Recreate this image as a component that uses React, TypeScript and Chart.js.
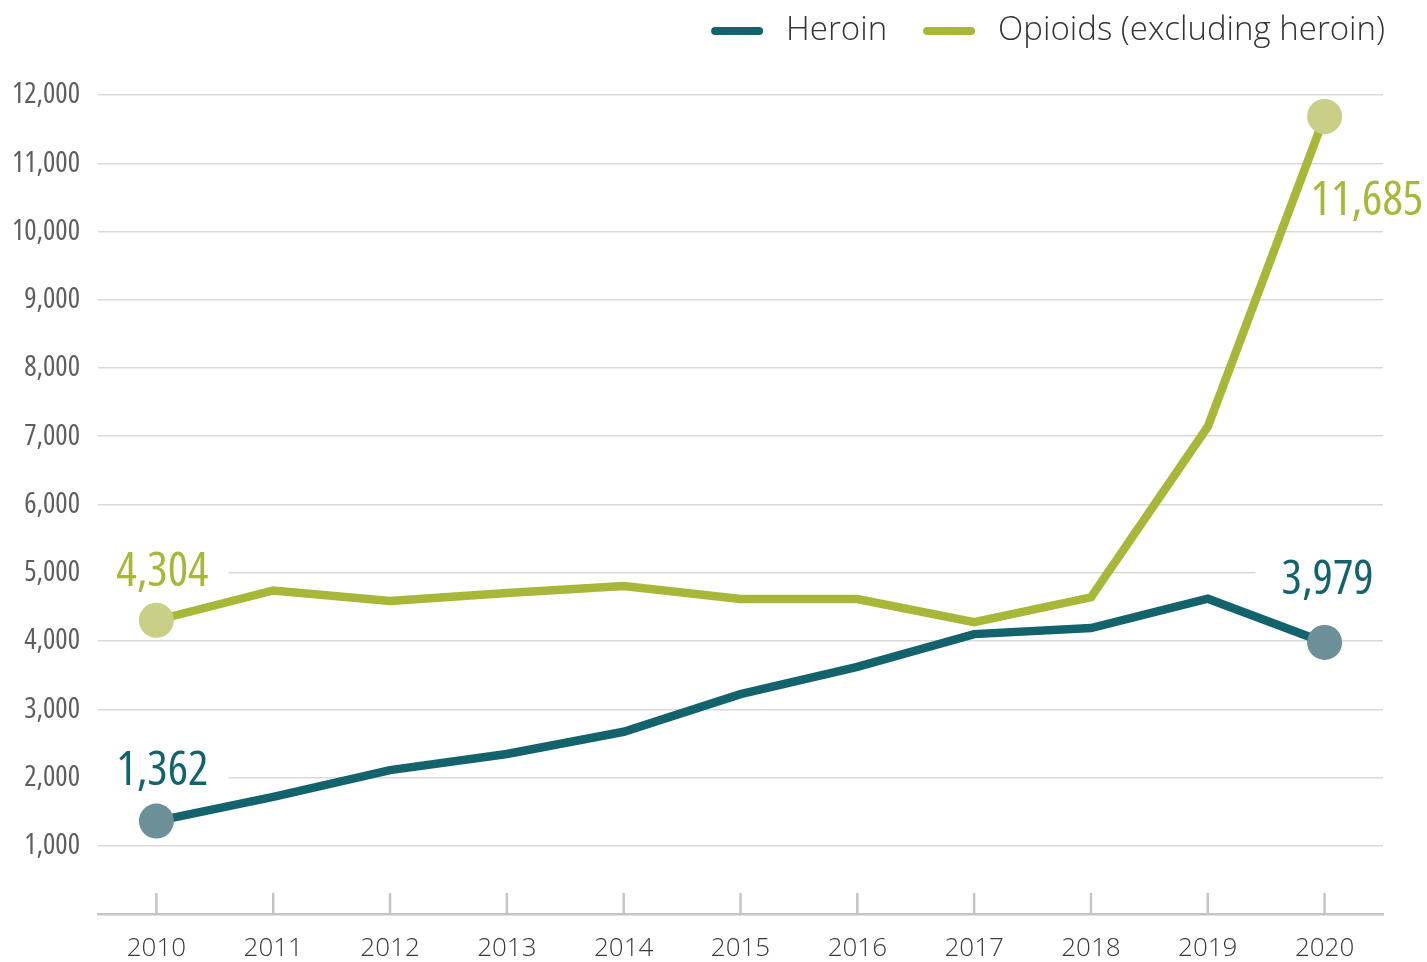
import React, { useEffect, useRef } from 'react';
import { Chart, registerables } from 'chart.js';

Chart.register(...registerables);

const years = ['2010', '2011', '2012', '2013', '2014', '2015', '2016', '2017', '2018', '2019', '2020'];
const heroin = [1362, 1716, 2109, 2344, 2670, 3222, 3620, 4101, 4189, 4620, 3979];
const opioids = [4304, 4740, 4585, 4702, 4804, 4614, 4614, 4277, 4640, 7140, 11685];
const seriesNames = ['Heroin', 'Opioids (excluding heroin)'];
const yMin = 0;
const yMax = 12000;
const yStep = 1000;

const HEROIN_LINE = '#13636c';
const HEROIN_POINT = '#6d8f97';
const OPIOID_LINE = '#a9b739';
const OPIOID_POINT = '#c9cf86';

const WIDE = "'Open Sans', 'Noto Sans', sans-serif";

const fmt = (v: number) => v.toLocaleString('en-US');

const tickMarksPlugin = {
  id: 'tickMarks',
  beforeDatasetsDraw(chart: any) {
    const { ctx, scales } = chart;
    const x = scales.x;
    const y0 = scales.y.getPixelForValue(yMin);
    ctx.save();
    ctx.strokeStyle = '#c4c4c4';
    ctx.lineWidth = 2.5;
    years.forEach((_, i) => {
      const px = x.getPixelForValue(i);
      ctx.beginPath();
      ctx.moveTo(px, y0);
      ctx.lineTo(px, y0 - 21);
      ctx.stroke();
    });
    ctx.restore();
  },
};

// label placement: [datasetIndex, pointIndex, dx, dy, align, side]
const labelSpecs: Array<[number, number, number, number, string, string]> = [
  [0, 0, 6, -36, 'center', 'left'],
  [1, 0, 6, -34, 'center', 'left'],
  [0, 10, 3, -48, 'center', 'right'],
  [1, 10, -14, 99, 'left', 'none'],
];

const LABEL_FONT = `normal condensed 48px ${WIDE}`;

const valueLabelsPlugin = {
  id: 'valueLabels',
  beforeDatasetsDraw(chart: any) {
    const { ctx, chartArea } = chart;
    ctx.save();
    ctx.font = LABEL_FONT;
    ctx.fillStyle = '#ffffff';
    labelSpecs.forEach(([di, pi, dx, dy, align, side]) => {
      if (side === 'none') return;
      const el = chart.getDatasetMeta(di).data[pi];
      const text = fmt(chart.data.datasets[di].data[pi]);
      const w = ctx.measureText(text).width;
      const cx = el.x + dx;
      const base = el.y + dy;
      const left = align === 'center' ? cx - w / 2 : cx;
      const right = left + w;
      if (side === 'left') {
        ctx.fillRect(chartArea.left, base - 40, right + 20 - chartArea.left, 46);
      } else {
        ctx.fillRect(left - 26, base - 40, chartArea.right - (left - 26), 46);
      }
    });
    ctx.restore();
  },
  afterDatasetsDraw(chart: any) {
    const { ctx } = chart;
    ctx.save();
    ctx.font = LABEL_FONT;
    ctx.textBaseline = 'alphabetic';
    labelSpecs.forEach(([di, pi, dx, dy, align]) => {
      const el = chart.getDatasetMeta(di).data[pi];
      const text = fmt(chart.data.datasets[di].data[pi]);
      ctx.fillStyle = chart.data.datasets[di].borderColor;
      ctx.textAlign = align;
      ctx.fillText(text, el.x + dx, el.y + dy);
    });
    ctx.restore();
  },
};

const legendPlugin = {
  id: 'customLegend',
  afterDraw(chart: any) {
    const { ctx, chartArea } = chart;
    ctx.save();
    ctx.font = `300 33px ${WIDE}`;
    ctx.textBaseline = 'middle';
    ctx.textAlign = 'left';
    const cy = 31;
    let right = chartArea.right + 2;
    const items = chart.data.datasets.map((d: any) => ({ label: d.label, color: d.borderColor }));
    for (let i = items.length - 1; i >= 0; i--) {
      const it = items[i];
      const tw = ctx.measureText(it.label).width;
      const tx = right - tw;
      ctx.fillStyle = '#333333';
      ctx.fillText(it.label, tx, cy);
      const bx1 = tx - 23;
      const bx0 = bx1 - 52;
      ctx.strokeStyle = it.color;
      ctx.lineWidth = 8;
      ctx.lineCap = 'round';
      ctx.beginPath();
      ctx.moveTo(bx0 + 4, cy);
      ctx.lineTo(bx1 - 4, cy);
      ctx.stroke();
      right = bx0 - 36;
    }
    ctx.restore();
  },
};

const endRadius = (n: number) => (c: any) => (c.dataIndex === 0 || c.dataIndex === n - 1 ? 17.5 : 0);

export default function App() {
  const ref = useRef<HTMLCanvasElement | null>(null);
  useEffect(() => {
    document.body.style.margin = '0';
    const canvas = ref.current;
    if (!canvas) return;
    const chart = new Chart(canvas, {
      type: 'line',
      data: {
        labels: years,
        datasets: [
          {
            label: seriesNames[0],
            data: heroin,
            borderColor: HEROIN_LINE,
            backgroundColor: HEROIN_LINE,
            borderWidth: 8.5,
            pointRadius: endRadius(years.length),
            pointHoverRadius: endRadius(years.length),
            pointBackgroundColor: HEROIN_POINT,
            pointBorderWidth: 0,
            tension: 0,
          },
          {
            label: seriesNames[1],
            data: opioids,
            borderColor: OPIOID_LINE,
            backgroundColor: OPIOID_LINE,
            borderWidth: 8.5,
            pointRadius: endRadius(years.length),
            pointHoverRadius: endRadius(years.length),
            pointBackgroundColor: OPIOID_POINT,
            pointBorderWidth: 0,
            tension: 0,
          },
        ],
      },
      options: {
        responsive: false,
        animation: false,
        layout: { padding: { top: 95, right: 44, left: 0, bottom: 0 } },
        plugins: {
          legend: { display: false },
          tooltip: { enabled: false },
        },
        scales: {
          x: {
            type: 'category',
            offset: true,
            grid: { display: false, drawTicks: false },
            border: { display: true, color: '#c4c4c4', width: 2.5 },
            ticks: {
              padding: 19,
              color: '#3a3a3a',
              font: { family: WIDE, size: 26, weight: '300' as any },
              maxRotation: 0,
              autoSkip: false,
            },
            afterFit: (s: any) => {
              s.height = 48;
            },
          },
          y: {
            min: yMin,
            max: yMax,
            border: { display: false },
            grid: {
              drawTicks: false,
              lineWidth: 1.5,
              color: (c: any) => (c.tick && c.tick.value === yMin ? 'rgba(0,0,0,0)' : '#d9d9d9'),
            },
            ticks: {
              stepSize: yStep,
              padding: 18,
              color: '#5e5e5e',
              font: { family: WIDE, size: 29, weight: 'normal condensed' as any },
              callback: (v: any) => (v === yMin ? '' : fmt(Number(v))),
            },
            afterFit: (s: any) => {
              s.width = 98;
            },
          },
        },
      },
      plugins: [tickMarksPlugin, valueLabelsPlugin, legendPlugin],
    });
    return () => chart.destroy();
  }, []);
  return (
    <div style={{ width: 1427, height: 962 }}>
      <canvas ref={ref} width={1427} height={962} style={{ display: 'block' }} />
    </div>
  );
}
